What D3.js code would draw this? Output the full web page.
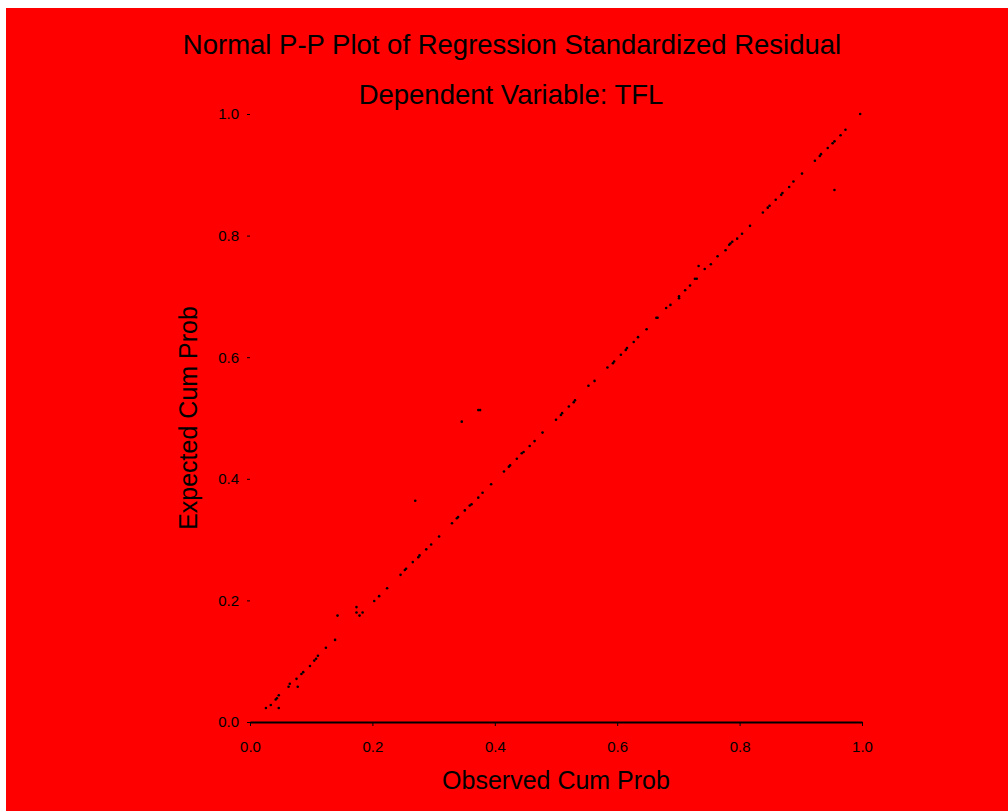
<!DOCTYPE html>
<html>
<head>
<meta charset="utf-8">
<script src="https://cdn.jsdelivr.net/npm/d3@7"></script>
<style>
  html, body { margin: 0; padding: 0; background: #fff; overflow: hidden; }
  svg { display: block; }
  text { font-family: "Liberation Sans", Arial, sans-serif; fill: #000; }
</style>
</head>
<body>
<div id="chart"></div>
<script>
/* ---------- Data ---------- */
const titleText = "Normal P-P Plot of Regression Standardized Residual";
const subtitleText = "Dependent Variable: TFL";
const xTitle = "Observed Cum Prob";
const yTitle = "Expected Cum Prob";
const xTicks = [0, 0.2, 0.4, 0.6, 0.8, 1.0];
const yTicks = [0, 0.2, 0.4, 0.6, 0.8, 1.0];

// observed cumulative probability
const observed = [
  0.026, 0.034, 0.042, 0.044, 0.047, 0.047, 0.063, 0.065, 0.076, 0.078,
  0.084, 0.087, 0.098, 0.105, 0.108, 0.111, 0.124, 0.139, 0.143, 0.174,
  0.174, 0.179, 0.184, 0.203, 0.211, 0.224, 0.246, 0.253, 0.255, 0.266,
  0.270, 0.275, 0.277, 0.288, 0.296, 0.309, 0.330, 0.338, 0.340, 0.346,
  0.351, 0.359, 0.362, 0.373, 0.373, 0.376, 0.380, 0.394, 0.415, 0.423,
  0.425, 0.436, 0.444, 0.447, 0.457, 0.465, 0.478, 0.500, 0.508, 0.510,
  0.521, 0.529, 0.531, 0.553, 0.563, 0.584, 0.593, 0.595, 0.606, 0.614,
  0.616, 0.627, 0.634, 0.648, 0.664, 0.666, 0.680, 0.687, 0.701, 0.701,
  0.711, 0.719, 0.727, 0.730, 0.733, 0.743, 0.753, 0.764, 0.777, 0.783,
  0.785, 0.788, 0.796, 0.804, 0.817, 0.838, 0.846, 0.849, 0.859, 0.868,
  0.870, 0.881, 0.888, 0.902, 0.923, 0.931, 0.933, 0.944, 0.952, 0.955,
  0.955, 0.965, 0.973, 0.997
];

// expected cumulative probability
const expected = [
  0.023, 0.028, 0.037, 0.039, 0.044, 0.023, 0.058, 0.063, 0.071, 0.058,
  0.079, 0.082, 0.092, 0.101, 0.104, 0.109, 0.122, 0.135, 0.175, 0.189,
  0.180, 0.175, 0.180, 0.199, 0.207, 0.220, 0.242, 0.250, 0.252, 0.263,
  0.364, 0.271, 0.274, 0.284, 0.292, 0.305, 0.327, 0.335, 0.337, 0.494,
  0.348, 0.356, 0.358, 0.369, 0.513, 0.513, 0.377, 0.391, 0.412, 0.420,
  0.422, 0.433, 0.442, 0.444, 0.454, 0.462, 0.476, 0.497, 0.505, 0.508,
  0.519, 0.526, 0.529, 0.553, 0.561, 0.583, 0.590, 0.593, 0.604, 0.612,
  0.615, 0.625, 0.633, 0.646, 0.665, 0.665, 0.681, 0.686, 0.700, 0.697,
  0.710, 0.718, 0.729, 0.729, 0.750, 0.745, 0.753, 0.766, 0.776, 0.785,
  0.787, 0.790, 0.795, 0.803, 0.816, 0.838, 0.846, 0.849, 0.859, 0.867,
  0.870, 0.880, 0.889, 0.902, 0.923, 0.931, 0.934, 0.944, 0.952, 0.955,
  0.875, 0.965, 0.974, 1.000
];

/* ---------- Chart ---------- */
function drawPPPlot() {
  const width = 1008, height = 811;
  const plot = { left: 250, right: 862, top: 114, bottom: 722 };

  const svg = d3.select("#chart").append("svg")
    .attr("width", width)
    .attr("height", height);

  // background
  svg.append("rect")
    .attr("x", 6).attr("y", 8)
    .attr("width", width - 6).attr("height", height - 8)
    .attr("fill", "#ff0000");

  const x = d3.scaleLinear().domain([0, 1]).range([plot.left, plot.right]);
  const y = d3.scaleLinear().domain([0, 1]).range([plot.bottom, plot.top]);

  // X axis
  const xAxis = svg.append("g")
    .attr("transform", `translate(0,${plot.bottom})`)
    .call(d3.axisBottom(x).tickValues(xTicks).tickFormat(d3.format(".1f"))
      .tickSize(4).tickSizeOuter(0).tickPadding(15));
  xAxis.select(".domain").attr("stroke", "#000").attr("stroke-width", 2);
  xAxis.selectAll(".tick line").attr("stroke", "#000");
  xAxis.selectAll("text").style("font-size", "15px").attr("fill", "#000");

  // Y axis (ticks only)
  const yAxis = svg.append("g")
    .attr("transform", `translate(${plot.left},0)`)
    .call(d3.axisLeft(y).tickValues(yTicks).tickFormat(d3.format(".1f"))
      .tickSize(3).tickSizeOuter(0).tickPadding(8));
  yAxis.select(".domain").remove();
  yAxis.selectAll(".tick line").attr("stroke", "#000");
  yAxis.selectAll("text").style("font-size", "15px").attr("fill", "#000");

  // Points
  const pts = observed.map((o, i) => ({ o: o, e: expected[i] }));
  svg.append("g").selectAll("circle")
    .data(pts)
    .enter().append("circle")
    .attr("cx", d => x(d.o))
    .attr("cy", d => y(d.e))
    .attr("r", 1.3)
    .attr("fill", "#000");

  // Titles
  svg.append("text")
    .attr("x", 512).attr("y", 54)
    .attr("text-anchor", "middle")
    .style("font-size", "27.5px")
    .text(titleText);

  svg.append("text")
    .attr("x", 511).attr("y", 104)
    .attr("text-anchor", "middle")
    .style("font-size", "27.5px")
    .text(subtitleText);

  svg.append("text")
    .attr("x", (plot.left + plot.right) / 2).attr("y", 789)
    .attr("text-anchor", "middle")
    .style("font-size", "25px")
    .text(xTitle);

  svg.append("text")
    .attr("transform", `translate(197,${(plot.top + plot.bottom) / 2}) rotate(-90)`)
    .attr("text-anchor", "middle")
    .style("font-size", "25px")
    .text(yTitle);
}

drawPPPlot();
</script>
</body>
</html>
